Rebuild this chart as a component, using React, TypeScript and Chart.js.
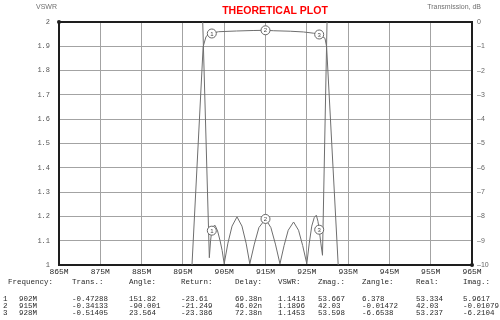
import React, { useEffect, useRef } from 'react';
import { Chart, registerables } from 'chart.js';

Chart.register(...registerables);

// ---- data ----
const freqTicks = [865, 875, 885, 895, 905, 915, 925, 935, 945, 955, 965];
const vswrTicks = [1, 1.1, 1.2, 1.3, 1.4, 1.5, 1.6, 1.7, 1.8, 1.9, 2];
const transTicks = [0, -1, -2, -3, -4, -5, -6, -7, -8, -9, -10];

const vswrFreq = [
  898.8, 899.8, 901.4, 901.7, 902.0, 902.4, 902.8, 903.4, 904.0, 904.5, 905.0,
  905.9, 906.9, 908.1, 909.3, 910.3, 911.2,
  912.3, 913.4, 915.0, 916.3, 917.4, 918.5,
  919.5, 920.5, 921.8, 923.0, 924.0, 925.0,
  925.6, 926.2, 926.8, 927.3, 927.7, 928.0, 928.4, 928.8, 929.9, 930.9,
];
const vswrValues = [
  4.0, 2.0, 1.03, 1.1, 1.1413, 1.16, 1.163, 1.14, 1.1, 1.06, 1.005,
  1.09, 1.16, 1.198, 1.16, 1.09, 1.005,
  1.086, 1.154, 1.1896, 1.154, 1.086, 1.005,
  1.08, 1.143, 1.177, 1.143, 1.08, 1.005,
  1.09, 1.16, 1.195, 1.205, 1.18, 1.1453, 1.09, 1.04, 2.0, 4.0,
];

const transFreq = [
  895.4, 897.2, 899.9, 900.6, 901.3, 902.0, 903.6, 908.0, 912.0, 915.0,
  917.0, 921.0, 924.2, 926.6, 928.0, 929.4, 929.8, 932.6, 934.5,
];
const transValues = [
  -16, -10, -1.02, -0.6, -0.5, -0.47288, -0.4, -0.37, -0.35, -0.34133,
  -0.36, -0.38, -0.41, -0.46, -0.51405, -0.67, -1.02, -10, -16,
];

const markerIds = ['1', '2', '3'];
const markerFreq = [902, 915, 928];
const markerTrans = [-0.47288, -0.34133, -0.51405];
const markerVswr = [1.1413, 1.1896, 1.1453];

const tableHeaders = ['Frequency:', 'Trans.:', 'Angle:', 'Return:', 'Delay:', 'VSWR:', 'Zmag.:', 'Zangle:', 'Real:', 'Imag.:'];
const tableRows = [
  ['1', '902M', '-0.47288', '151.82', '-23.61', '69.38n', '1.1413', '53.667', '6.378', '53.334', '5.9617'],
  ['2', '915M', '-0.34133', '-90.001', '-21.249', '46.02n', '1.1896', '42.03', '-0.01472', '42.03', '-0.01079'],
  ['3', '928M', '-0.51405', '23.564', '-23.386', '72.38n', '1.1453', '53.598', '-6.6538', '53.237', '-6.2104'],
];

const titleText = 'THEORETICAL PLOT';
const leftAxisTitle = 'VSWR';
const rightAxisTitle = 'Transmission, dB';

// ---- layout / style ----
const headerX = [8, 72, 129, 181, 235, 278, 318, 362, 416, 463];
const rowX = [3, 19, 72, 129, 181, 235, 278, 318, 362, 416, 463];
const MONO = '"Liberation Mono", "DejaVu Sans Mono", monospace';
const SANS = '"Liberation Sans", Arial, sans-serif';

const overlayPlugin = {
  id: 'overlay',
  beforeDatasetsDraw(chart: any) {
    const { ctx, chartArea } = chart;
    ctx.save();
    ctx.strokeStyle = '#1e1e1e';
    ctx.lineWidth = 2;
    ctx.strokeRect(chartArea.left, chartArea.top, chartArea.right - chartArea.left, chartArea.bottom - chartArea.top);
    ctx.restore();
  },
  afterDraw(chart: any) {
    const { ctx, chartArea, scales } = chart;
    ctx.save();
    // corner dots
    ctx.fillStyle = '#1e1e1e';
    ctx.beginPath();
    ctx.arc(chartArea.left, chartArea.top, 2, 0, Math.PI * 2);
    ctx.fill();
    ctx.beginPath();
    ctx.arc(chartArea.right, chartArea.bottom, 2, 0, Math.PI * 2);
    ctx.fill();

    // markers
    const drawMarker = (x: number, y: number, label: string) => {
      ctx.beginPath();
      ctx.arc(x, y, 4.5, 0, Math.PI * 2);
      ctx.fillStyle = '#ffffff';
      ctx.fill();
      ctx.strokeStyle = '#666666';
      ctx.lineWidth = 1;
      ctx.stroke();
      ctx.fillStyle = '#444444';
      ctx.font = `6px ${SANS}`;
      ctx.textAlign = 'center';
      ctx.textBaseline = 'middle';
      ctx.fillText(label, x, y + 0.5);
    };
    markerIds.forEach((id, i) => {
      const x = scales.x.getPixelForValue(markerFreq[i]);
      drawMarker(x, scales.y2.getPixelForValue(markerTrans[i]), id);
      drawMarker(x, scales.y.getPixelForValue(markerVswr[i]), id);
    });

    // titles
    ctx.textBaseline = 'middle';
    ctx.fillStyle = '#ff0000';
    ctx.font = `bold 10.5px ${SANS}`;
    ctx.textAlign = 'center';
    ctx.fillText(titleText, 275, 11);
    ctx.fillStyle = '#707070';
    ctx.font = `7px ${SANS}`;
    ctx.textAlign = 'left';
    ctx.fillText(leftAxisTitle, 36, 7);
    ctx.textAlign = 'right';
    ctx.fillText(rightAxisTitle, 481, 7);

    // table
    ctx.fillStyle = '#2a2a2a';
    ctx.font = `7.5px ${MONO}`;
    ctx.textAlign = 'left';
    tableHeaders.forEach((h, i) => ctx.fillText(h, headerX[i], 282));
    tableRows.forEach((row, r) => {
      row.forEach((cell, c) => ctx.fillText(cell, rowX[c], 299 + r * 7));
    });
    ctx.restore();
  },
};

export default function App() {
  const canvasRef = useRef<HTMLCanvasElement | null>(null);

  useEffect(() => {
    document.body.style.margin = '0';
    const canvas = canvasRef.current;
    if (!canvas) return;
    const chart = new Chart(canvas, {
      type: 'line',
      data: {
        datasets: [
          {
            label: 'VSWR',
            data: vswrFreq.map((f, i) => ({ x: f, y: vswrValues[i] })),
            yAxisID: 'y',
            borderColor: '#6e6e6e',
            borderWidth: 1,
            pointRadius: 0,
            tension: 0,
          },
          {
            label: 'Transmission, dB',
            data: transFreq.map((f, i) => ({ x: f, y: transValues[i] })),
            yAxisID: 'y2',
            borderColor: '#6e6e6e',
            borderWidth: 1,
            pointRadius: 0,
            tension: 0,
          },
        ],
      },
      options: {
        animation: false,
        responsive: false,
        maintainAspectRatio: false,
        layout: { padding: { top: 22, left: 0, right: 0, bottom: 0 } },
        plugins: { legend: { display: false }, tooltip: { enabled: false }, title: { display: false } },
        scales: {
          x: {
            type: 'linear',
            position: 'bottom',
            min: 865,
            max: 965,
            afterBuildTicks: (s: any) => { s.ticks = freqTicks.map((v) => ({ value: v })); },
            afterFit: (s: any) => { s.height = 55; },
            ticks: {
              callback: (v: any) => `${v}M`,
              font: { family: MONO, size: 8 },
              color: '#2a2a2a',
              padding: 2,
              maxRotation: 0,
              autoSkip: false,
            },
            grid: { color: '#a3a3a3', lineWidth: 1, drawTicks: false },
            border: { display: false },
          },
          y: {
            type: 'linear',
            position: 'left',
            min: 1,
            max: 2,
            afterBuildTicks: (s: any) => { s.ticks = vswrTicks.map((v) => ({ value: v })); },
            afterFit: (s: any) => { s.width = 59; },
            ticks: {
              callback: (v: any) => (v === 1 || v === 2 ? String(v) : Number(v).toFixed(1)),
              font: { family: MONO, size: 7 },
              color: '#555555',
              padding: 9,
              autoSkip: false,
            },
            grid: { color: '#a3a3a3', lineWidth: 1, drawTicks: false },
            border: { display: false },
          },
          y2: {
            type: 'linear',
            position: 'right',
            min: -10,
            max: 0,
            afterBuildTicks: (s: any) => { s.ticks = transTicks.map((v) => ({ value: v })); },
            afterFit: (s: any) => { s.width = 28; },
            ticks: {
              callback: (v: any) => (v === 0 ? '0' : `\u2013${Math.abs(v)}`),
              font: { family: SANS, size: 7 },
              color: '#666666',
              padding: 5,
              autoSkip: false,
            },
            grid: { display: false, drawTicks: false },
            border: { display: false },
          },
        },
      },
      plugins: [overlayPlugin],
    });
    return () => chart.destroy();
  }, []);

  return (
    <div style={{ width: 500, height: 320, position: 'relative', background: '#ffffff' }}>
      <canvas ref={canvasRef} width={500} height={320} style={{ display: 'block' }} />
    </div>
  );
}
